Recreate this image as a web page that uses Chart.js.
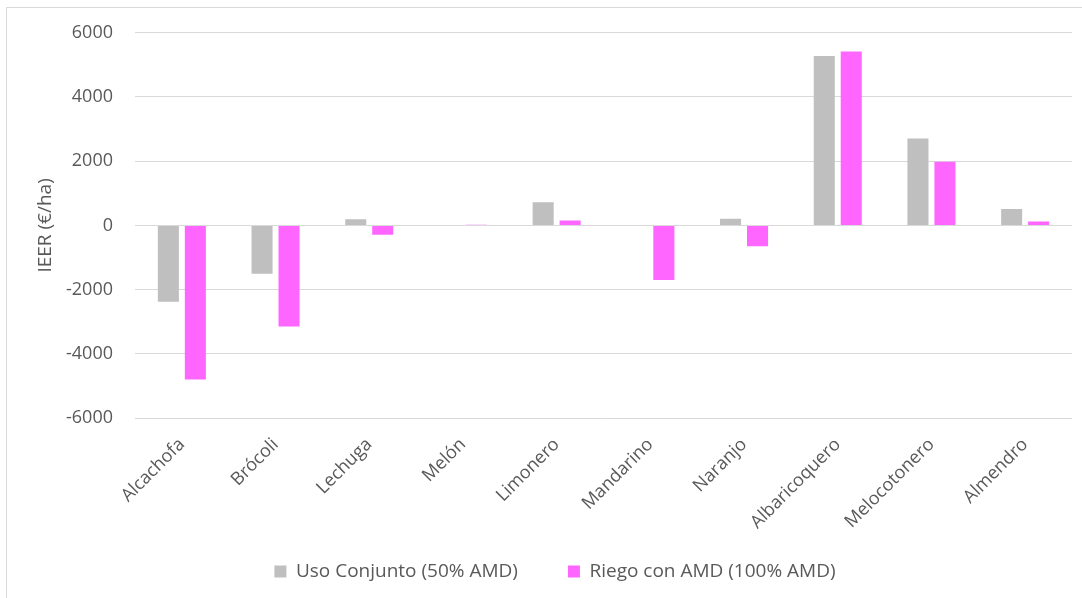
<!DOCTYPE html>
<html>
<head>
<meta charset="utf-8">
<script src="https://cdn.jsdelivr.net/npm/chart.js@4/dist/chart.umd.min.js"></script>
<style>
  html, body { margin: 0; padding: 0; background: #fff; }
  #wrap { width: 1082px; height: 598px; }
</style>
</head>
<body>
<div id="wrap"><canvas id="myChart" width="1082" height="598"></canvas></div>
<script>
// categorias (cultivos)
const cultivos = ['Alcachofa', 'Brócoli', 'Lechuga', 'Melón', 'Limonero', 'Mandarino', 'Naranjo', 'Albaricoquero', 'Melocotonero', 'Almendro'];
// IEER (€/ha) por escenario
const usoConjunto = [-2380, -1510, 190, 0, 720, 0, 210, 5280, 2710, 510];
const riegoAMD = [-4800, -3150, -290, 20, 150, -1700, -650, 5420, 1980, 120];
const yTicks = [-6000, -4000, -2000, 0, 2000, 4000, 6000];

const textColor = '#595959';
const fontFam = "'Open Sans', sans-serif";

// marco exterior del grafico
const framePlugin = {
    id: 'frame',
    beforeDraw(chart) {
        const c = chart.ctx;
        c.save();
        c.fillStyle = '#fff';
        c.fillRect(0, 0, chart.width, chart.height);
        c.strokeStyle = '#d9d9d9';
        c.lineWidth = 1;
        c.strokeRect(6.5, 7.5, chart.width, chart.height);
        c.restore();
    }
};

const ctx = document.getElementById('myChart').getContext('2d');
const myChart = new Chart(ctx, {
    type: 'bar',
    data: {
        labels: cultivos,
        datasets: [{
            label: 'Uso Conjunto (50% AMD)',
            data: usoConjunto,
            backgroundColor: '#bfbfbf',
            barPercentage: 0.78,
            categoryPercentage: 0.576
        }, {
            label: 'Riego con AMD (100% AMD)',
            data: riegoAMD,
            backgroundColor: '#ff66ff',
            barPercentage: 0.78,
            categoryPercentage: 0.576
        }]
    },
    options: {
        responsive: false,
        animation: false,
        layout: {
            padding: { left: 38, right: 10, top: 28, bottom: 7 }
        },
        scales: {
            x: {
                grid: { display: false, drawTicks: false },
                border: { display: false },
                ticks: {
                    color: textColor,
                    font: { family: fontFam, size: 18 },
                    maxRotation: 45,
                    minRotation: 45,
                    padding: 16
                },
                afterFit: function (scale) { scale.height = 132; }
            },
            y: {
                min: -6000,
                max: 6000,
                afterBuildTicks: function (scale) {
                    scale.ticks = yTicks.map(v => ({ value: v }));
                },
                grid: { color: '#d9d9d9', drawTicks: false },
                border: { display: false },
                ticks: {
                    color: textColor,
                    font: { family: fontFam, size: 18 },
                    padding: 22,
                    callback: function (value) { return String(value); }
                },
                title: {
                    display: true,
                    text: 'IEER (€/ha)',
                    color: textColor,
                    font: { family: fontFam, size: 19 },
                    padding: { top: -4 }
                },
                afterFit: function (scale) { scale.width = 97; }
            }
        },
        plugins: {
            legend: {
                position: 'bottom',
                labels: {
                    color: textColor,
                    font: { family: fontFam, size: 19 },
                    boxWidth: 12,
                    boxHeight: 12,
                    padding: 12,
                    generateLabels: function (chart) {
                        const items = Chart.defaults.plugins.legend.labels.generateLabels(chart);
                        // hueco entre las dos entradas de la leyenda
                        items[0].text = items[0].text + '\u2003\u2003';
                        return items;
                    }
                }
            },
            tooltip: { enabled: false }
        }
    },
    plugins: [framePlugin]
});
</script>
</body>
</html>
